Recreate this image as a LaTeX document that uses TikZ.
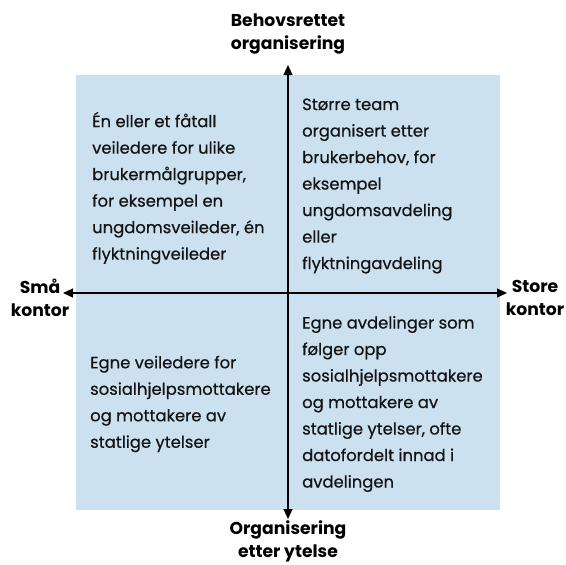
\documentclass[tikz,border=0pt]{standalone}
\usepackage{fontspec}
\setmainfont{Poppins}
\newfontfamily\quadfont{Poppins}[FakeBold=0.6]
\usetikzlibrary{arrows.meta}
\definecolor{quadblue}{HTML}{CCE1F0}
\definecolor{bodytext}{HTML}{141414}
\tikzset{
  quadtext/.style={anchor=west, align=left, inner sep=0pt, text=bodytext, font=\quadfont\fontsize{16.4}{26.5}\selectfont},
  axislabel/.style={align=center, inner sep=0pt, font=\bfseries\fontsize{17.2}{23}\selectfont},
  axis/.style={line width=1.1pt, -{Triangle[length=10pt,width=9pt]}}
}
\begin{document}
\begin{tikzpicture}[x=1pt,y=-1pt]
\useasboundingbox (0,0) rectangle (566,565);
\fill[quadblue] (76,75) rectangle (500,510);
\coordinate (c) at (288,293);
\coordinate (top) at (288,65);
\coordinate (bot) at (288,519);
\coordinate (lft) at (63,293);
\coordinate (rgt) at (507,293);
\draw[axis] (c) -- (top);
\draw[axis] (c) -- (bot);
\draw[axis] (c) -- (lft);
\draw[axis] (c) -- (rgt);
\node[axislabel] (lt) at (288,34) {Behovsrettet\\organisering};
\node[axislabel] (lb) at (288,541) {Organisering\\etter ytelse};
\node[axislabel] (ll) at (40,298) {Små\\kontor};
\node[axislabel] (lr) at (535,298) {Store\\kontor};
\node[quadtext] (q1) at (92,188) {Én eller et fåtall\\veiledere for ulike\\brukermålgrupper,\\for eksempel en\\ungdomsveileder, én\\flyktningveileder};
\node[quadtext] (q2) at (302,186) {Større team\\organisert etter\\brukerbehov, for\\eksempel\\ungdomsavdeling\\eller\\flyktningavdeling};
\node[quadtext] (q3) at (90,404) {Egne veiledere for\\sosialhjelpsmottakere\\og mottakere av\\statlige ytelser};
\node[quadtext] (q4) at (302,404) {Egne avdelinger som\\følger opp\\sosialhjelpsmottakere\\og mottakere av\\statlige ytelser, ofte\\datofordelt innad i\\avdelingen};
\end{tikzpicture}
\end{document}
